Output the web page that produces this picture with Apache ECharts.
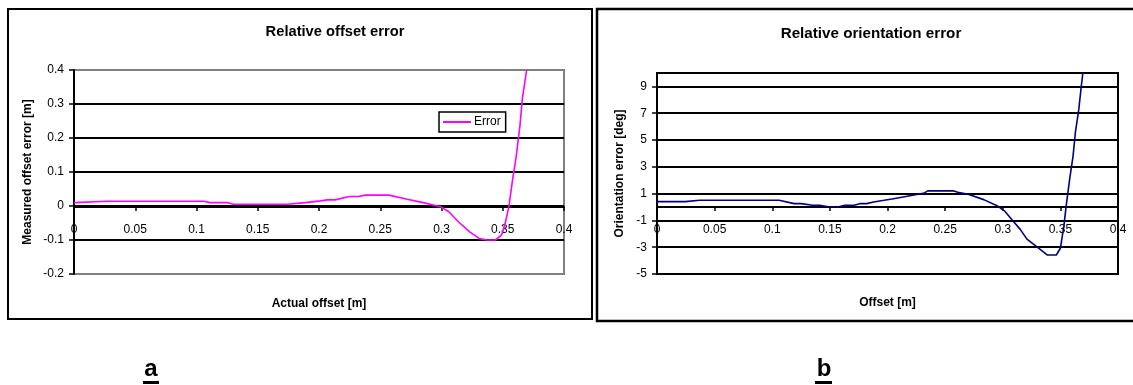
<!DOCTYPE html>
<html>
<head>
<meta charset="utf-8">
<script src="https://cdn.jsdelivr.net/npm/echarts@6/dist/echarts.min.js"></script>
<style>
html,body{margin:0;padding:0;background:#fff;}
#c{width:1133px;height:385px;}
</style>
</head>
<body>
<div id="c"></div>
<script>
// ---- data ----
const offsetActual = [0, 0.027, 0.106, 0.111, 0.125, 0.130, 0.174, 0.189, 0.201, 0.207, 0.213, 0.225, 0.232, 0.238, 0.257, 0.272, 0.285, 0.299, 0.306, 0.314, 0.323, 0.331, 0.337, 0.344, 0.349, 0.352, 0.355, 0.358, 0.361, 0.364, 0.366, 0.3695];
const offsetError  = [0.010, 0.014, 0.014, 0.010, 0.010, 0.005, 0.005, 0.010, 0.015, 0.018, 0.018, 0.028, 0.028, 0.032, 0.032, 0.020, 0.010, -0.002, -0.017, -0.047, -0.076, -0.096, -0.100, -0.100, -0.086, -0.051, -0.002, 0.077, 0.146, 0.235, 0.315, 0.400];

const offsetB = [0, 0.0245, 0.037, 0.106, 0.119, 0.125, 0.135, 0.141, 0.150, 0.157, 0.163, 0.171, 0.176, 0.182, 0.188, 0.197, 0.204, 0.223, 0.232, 0.235, 0.2575, 0.261, 0.270, 0.2835, 0.295, 0.302, 0.308, 0.315, 0.321, 0.330, 0.3385, 0.3465, 0.350, 0.353, 0.355, 0.358, 0.361, 0.363, 0.366, 0.368, 0.3695];
const orientError = [0.4, 0.4, 0.5, 0.5, 0.25, 0.25, 0.125, 0.125, 0, 0, 0.125, 0.125, 0.25, 0.25, 0.375, 0.5, 0.6, 0.9, 1.05, 1.2, 1.2, 1.1, 0.95, 0.55, 0.1, -0.33, -0.95, -1.65, -2.4, -3.0, -3.58, -3.58, -3.08, -1.45, 0.05, 2.05, 3.8, 5.55, 7.3, 8.9, 10];

const titleA = 'Relative offset error';
const titleB = 'Relative orientation error';
const xNameA = 'Actual offset [m]';
const yNameA = 'Measured offset error [m]';
const xNameB = 'Offset [m]';
const yNameB = 'Orientation error [deg]';
const seriesNameA = 'Error';
const panelLabels = ['a', 'b'];

// ---- chart ----
const FONT = '"Liberation Sans", Arial, sans-serif';
const chart = echarts.init(document.getElementById('c'), null, {renderer: 'canvas'});

function zip(xs, ys) { return xs.map((x, i) => [x, ys[i]]); }

const xAxisCommon = {
  type: 'value', min: 0, max: 0.4, interval: 0.05,
  axisLine: {onZero: false, lineStyle: {color: '#000', width: 2}},
  axisTick: {show: true, length: 4, lineStyle: {color: '#000', width: 1.5}},
  axisLabel: {color: '#000', fontSize: 12, fontFamily: FONT, margin: 17, showMinLabel: true, showMaxLabel: true},
  splitLine: {show: false},
  nameLocation: 'middle',
  nameTextStyle: {color: '#000', fontSize: 12, fontWeight: 'bold', fontFamily: FONT}
};

chart.setOption({
  animation: false,
  backgroundColor: '#fff',
  grid: [
    {left: 74, top: 70, width: 490, height: 204, show: true, borderColor: '#808080', borderWidth: 2, backgroundColor: 'transparent'},
    {left: 657, top: 73, width: 461, height: 201, show: true, borderColor: '#000', borderWidth: 2, backgroundColor: 'transparent'}
  ],
  xAxis: [
    Object.assign({}, xAxisCommon, {gridIndex: 0, offset: -67, name: xNameA, nameGap: 91}),
    Object.assign({}, xAxisCommon, {gridIndex: 1, offset: -67, name: xNameB, nameGap: 90})
  ],
  yAxis: [
    {
      type: 'value', gridIndex: 0, min: -0.2, max: 0.4, interval: 0.1,
      axisLine: {show: true, onZero: false, lineStyle: {color: '#000', width: 2}},
      axisTick: {show: true, length: 5, lineStyle: {color: '#000', width: 1.5}},
      axisLabel: {color: '#000', fontSize: 12, fontFamily: FONT, margin: 10},
      splitLine: {show: true, showMinLine: false, showMaxLine: false, lineStyle: {color: '#000', width: 2}},
      name: yNameA, nameLocation: 'middle', nameGap: 40,
      nameTextStyle: {color: '#000', fontSize: 12, fontWeight: 'bold', fontFamily: FONT}
    },
    {
      type: 'value', gridIndex: 1, min: -5, max: 10, interval: 2,
      axisLine: {show: true, onZero: false, lineStyle: {color: '#000', width: 2}},
      axisTick: {show: true, length: 5, lineStyle: {color: '#000', width: 1.5}},
      axisLabel: {color: '#000', fontSize: 12, fontFamily: FONT, margin: 10, showMaxLabel: false},
      splitLine: {show: true, lineStyle: {color: '#000', width: 2}},
      name: yNameB, nameLocation: 'middle', nameGap: 31,
      nameTextStyle: {color: '#000', fontSize: 12, fontWeight: 'bold', fontFamily: FONT}
    }
  ],
  legend: {
    show: true, data: [seriesNameA], left: 439, top: 112,
    orient: 'horizontal', icon: 'rect', itemWidth: 28, itemHeight: 2, itemGap: 4,
    padding: [4, 5, 4, 4], borderColor: '#000', borderWidth: 1.5, backgroundColor: '#fff',
    textStyle: {color: '#000', fontSize: 12, fontFamily: FONT, padding: [0, 0, 0, -2]}
  },
  series: [
    {
      name: seriesNameA, type: 'line', xAxisIndex: 0, yAxisIndex: 0,
      data: zip(offsetActual, offsetError), showSymbol: false, symbol: 'none', smooth: false,
      lineStyle: {color: '#FF00FF', width: 1.6}, itemStyle: {color: '#FF00FF'}, clip: true, z: 5
    },
    {
      name: 'Orientation', type: 'line', xAxisIndex: 1, yAxisIndex: 1,
      data: zip(offsetB, orientError), showSymbol: false, symbol: 'none', smooth: false,
      lineStyle: {color: '#000080', width: 1.6}, itemStyle: {color: '#000080'}, clip: true, z: 5
    }
  ],
  graphic: [
    {type: 'rect', shape: {x: 8, y: 9, width: 584, height: 310}, style: {fill: 'none', stroke: '#000', lineWidth: 2}, z: -1},
    {type: 'rect', shape: {x: 597, y: 9, width: 560, height: 312}, style: {fill: 'none', stroke: '#000', lineWidth: 2.5}, z: -1},
    {type: 'text', x: 335, y: 32, style: {text: titleA, font: 'bold 14.7px ' + FONT, fill: '#000', align: 'center', verticalAlign: 'middle'}},
    {type: 'text', x: 871, y: 34, style: {text: titleB, font: 'bold 15.2px ' + FONT, fill: '#000', align: 'center', verticalAlign: 'middle'}},
    {type: 'text', x: 151, y: 369, style: {text: panelLabels[0], font: 'bold 24px ' + FONT, fill: '#000', align: 'center', verticalAlign: 'middle'}},
    {type: 'rect', shape: {x: 143, y: 381, width: 16, height: 3}, style: {fill: '#000'}},
    {type: 'text', x: 824, y: 369, style: {text: panelLabels[1], font: 'bold 24px ' + FONT, fill: '#000', align: 'center', verticalAlign: 'middle'}},
    {type: 'rect', shape: {x: 815, y: 381, width: 17, height: 3}, style: {fill: '#000'}}
  ]
});
</script>
</body>
</html>
